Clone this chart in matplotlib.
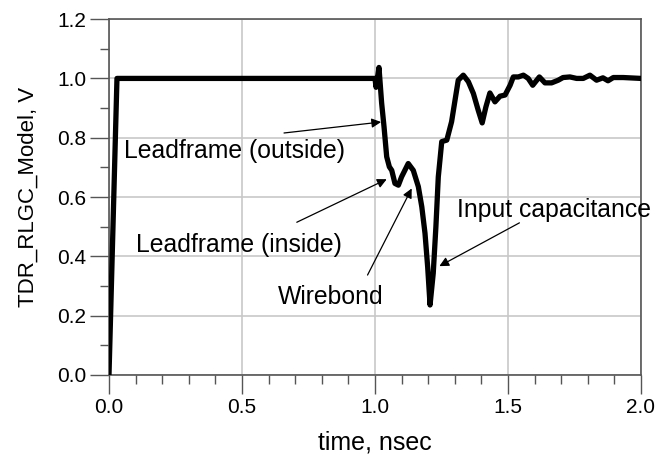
"""
TDR response of the RLGC package model, with the features annotated.
"""
import matplotlib
matplotlib.use("Agg")
import matplotlib.pyplot as plt
from matplotlib.ticker import MultipleLocator

plt.rcParams["font.family"] = ["Liberation Sans", "DejaVu Sans"]

# curve: time in nsec, voltage in V
time_ns = [0.0, 0.03, 1.0, 1.004, 1.015, 1.025, 1.034, 1.044, 1.054, 1.063,
           1.075, 1.088, 1.100, 1.125, 1.144, 1.163, 1.176, 1.188, 1.198,
           1.207, 1.219, 1.229, 1.238, 1.251, 1.270, 1.288, 1.301, 1.313,
           1.332, 1.351, 1.370, 1.388, 1.403, 1.417, 1.432, 1.451, 1.470,
           1.489, 1.508, 1.520, 1.539, 1.558, 1.576, 1.593, 1.618, 1.639,
           1.664, 1.689, 1.707, 1.733, 1.758, 1.783, 1.808, 1.833, 1.857,
           1.876, 1.896, 1.933, 2.0]
volts = [0.0, 1.0, 1.0, 0.97, 1.037, 0.917, 0.837, 0.736, 0.702, 0.69,
         0.646, 0.64, 0.668, 0.713, 0.69, 0.635, 0.567, 0.478, 0.365,
         0.236, 0.343, 0.5, 0.668, 0.787, 0.792, 0.854, 0.927, 0.994,
         1.011, 0.989, 0.949, 0.893, 0.85, 0.904, 0.951, 0.921, 0.94,
         0.944, 0.977, 1.005, 1.005, 1.011, 1.0, 0.977, 1.005, 0.985,
         0.985, 0.994, 1.003, 1.005, 1.0, 1.0, 1.011, 0.994, 1.002,
         0.992, 1.003, 1.003, 1.0]

# annotations: label, text anchor (left, middle), arrow tail, arrow head
notes = [
    ("Leadframe (outside)", (0.056, 0.755), (0.658, 0.816), (1.023, 0.853)),
    ("Leadframe (inside)", (0.102, 0.438), (0.706, 0.515), (1.044, 0.660)),
    ("Wirebond", (0.635, 0.263), (0.972, 0.337), (1.138, 0.629)),
    ("Input capacitance", (1.310, 0.558), (1.543, 0.513), (1.242, 0.367)),
]

fig = plt.figure(figsize=(6.55, 4.66), dpi=100)
ax = fig.add_axes([0.1664, 0.1953, 0.8122, 0.7637])

ax.plot(time_ns, volts, color="black", linewidth=3.8,
        solid_joinstyle="round", zorder=3)

ax.set_xlim(0, 2.0)
ax.set_ylim(0, 1.2)
ax.xaxis.set_major_locator(MultipleLocator(0.5))
ax.xaxis.set_minor_locator(MultipleLocator(0.1))
ax.yaxis.set_major_locator(MultipleLocator(0.2))
ax.yaxis.set_minor_locator(MultipleLocator(0.1))
ax.xaxis.set_major_formatter(lambda v, p: f"{v:.1f}")
ax.yaxis.set_major_formatter(lambda v, p: f"{v:.1f}")

ax.grid(True, which="major", color="#c8c8c8", linewidth=1.2)
ax.set_axisbelow(True)
for sp in ax.spines.values():
    sp.set_color("#555555")
    sp.set_linewidth(1.2)
ax.tick_params(which="major", direction="out", length=13.5, width=1.0,
               color="#555555", labelsize=15, pad=3)
ax.tick_params(which="minor", direction="out", length=6.5, width=1.0,
               color="#555555")

ax.set_xlabel("time, nsec", fontsize=18, labelpad=10)
ax.set_ylabel("TDR_RLGC_Model, V", fontsize=16, labelpad=13)

for label, txt, tail, head in notes:
    ax.text(txt[0], txt[1], label, fontsize=17.8, ha="left", va="center",
            clip_on=False, zorder=4)
    ax.annotate("", xy=head, xytext=tail,
                arrowprops=dict(arrowstyle="-|>", color="black", lw=0.9,
                                mutation_scale=14, shrinkA=0, shrinkB=0),
                zorder=4)

plt.savefig("out.png", dpi=100)
